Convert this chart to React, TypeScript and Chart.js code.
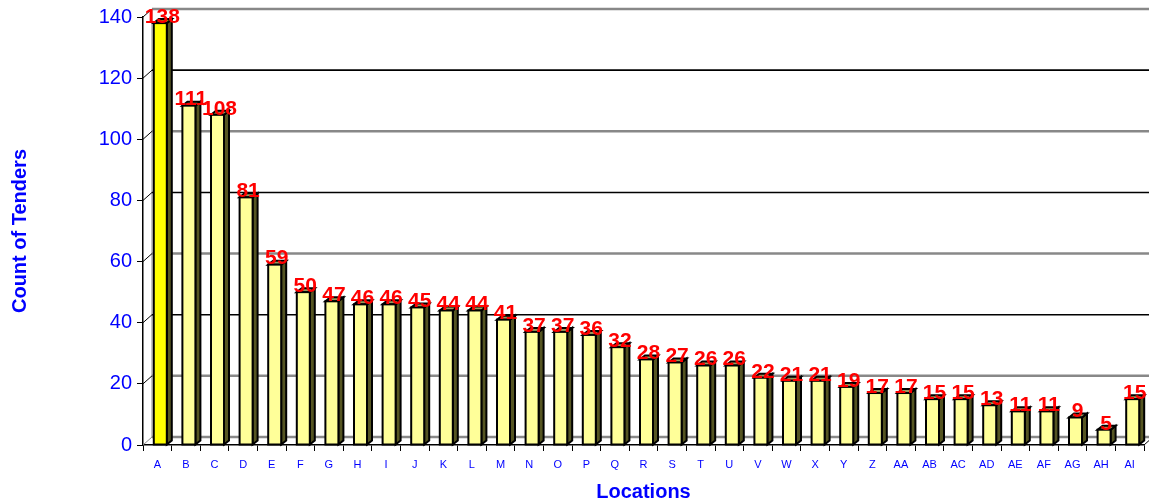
import React, { useEffect, useRef } from 'react';
import { Chart, registerables } from 'chart.js';

Chart.register(...registerables);

const categories = ['A','B','C','D','E','F','G','H','I','J','K','L','M','N','O','P','Q','R','S','T','U','V','W','X','Y','Z','AA','AB','AC','AD','AE','AF','AG','AH','AI'];
const counts = [138,111,108,81,59,50,47,46,46,45,44,44,41,37,37,36,32,28,27,26,26,22,21,21,19,17,17,15,15,13,11,11,9,5,15];
const yTickValues = [0,20,40,60,80,100,120,140];

const WALL_DX = 9;
const WALL_DY = 8;
const BAR_DX = 5;
const BAR_DY = 4;
const BAR_SHIFT = 3;
const BLUE = '#0000FF';
const FONT = '"Liberation Sans", Arial, sans-serif';

const threeD = {
  id: 'threeD',
  beforeDatasetsDraw(chart: any) {
    const { ctx, chartArea, scales } = chart;
    const { left, right, top, bottom } = chartArea;
    const y = scales.y;
    ctx.save();
    ctx.strokeStyle = '#888888';
    ctx.lineWidth = 1;
    ctx.beginPath();
    ctx.moveTo(left + WALL_DX, top - WALL_DY);
    ctx.lineTo(left + WALL_DX, bottom - WALL_DY);
    ctx.stroke();
    yTickValues.forEach((v) => {
      const py = y.getPixelForValue(v);
      const idx = Math.round(v / 20);
      const gray = v === 0 || idx % 2 === 1;
      ctx.strokeStyle = gray ? '#888888' : '#000000';
      ctx.lineWidth = gray ? 2.5 : 1.6;
      ctx.beginPath();
      ctx.moveTo(left + WALL_DX, py - WALL_DY);
      ctx.lineTo(chart.width, py - WALL_DY);
      ctx.stroke();
      ctx.strokeStyle = v === 0 ? '#888888' : '#000000';
      ctx.lineWidth = 1;
      ctx.beginPath();
      ctx.moveTo(left, py);
      ctx.lineTo(left + WALL_DX, py - WALL_DY);
      ctx.stroke();
    });
    ctx.strokeStyle = '#000000';
    ctx.lineWidth = 1;
    ctx.beginPath();
    ctx.moveTo(right, bottom);
    ctx.lineTo(right + WALL_DX, bottom - WALL_DY);
    ctx.stroke();
    ctx.restore();
  },
  afterDatasetsDraw(chart: any) {
    const { ctx } = chart;
    const meta = chart.getDatasetMeta(0);
    ctx.save();
    ctx.lineJoin = 'miter';
    const bars: { cx: number; ty: number; v: number }[] = [];
    meta.data.forEach((el: any, i: number) => {
      const p = el.getProps(['x', 'y', 'base', 'width'], true);
      const cx = p.x + BAR_SHIFT;
      const w = p.width;
      const l = cx - w / 2;
      const r = cx + w / 2;
      const ty = p.y;
      const by = p.base;
      const face = i === 0 ? '#FFFF00' : '#FFFF99';
      ctx.lineWidth = 2;
      ctx.strokeStyle = '#000000';
      ctx.fillStyle = '#555522';
      ctx.beginPath();
      ctx.moveTo(r, ty);
      ctx.lineTo(r + BAR_DX, ty - BAR_DY);
      ctx.lineTo(r + BAR_DX, by - BAR_DY);
      ctx.lineTo(r, by);
      ctx.closePath();
      ctx.fill();
      ctx.stroke();
      ctx.fillStyle = i === 0 ? '#999900' : '#99995c';
      ctx.beginPath();
      ctx.moveTo(l, ty);
      ctx.lineTo(l + BAR_DX, ty - BAR_DY);
      ctx.lineTo(r + BAR_DX, ty - BAR_DY);
      ctx.lineTo(r, ty);
      ctx.closePath();
      ctx.fill();
      ctx.stroke();
      ctx.fillStyle = face;
      ctx.fillRect(l, ty, w, by - ty);
      ctx.strokeRect(l, ty, w, by - ty);
      bars.push({ cx, ty, v: counts[i] });
    });
    ctx.fillStyle = '#FF0000';
    ctx.font = `bold 21px ${FONT}`;
    ctx.textAlign = 'center';
    ctx.textBaseline = 'middle';
    bars.forEach((b) => {
      ctx.fillText(String(b.v), b.cx + 2, b.ty - 6);
    });
    ctx.restore();
  },
};

export default function App() {
  const ref = useRef<HTMLCanvasElement | null>(null);
  useEffect(() => {
    document.body.style.margin = '0';
    if (!ref.current) return;
    const chart = new Chart(ref.current, {
      type: 'bar',
      data: {
        labels: categories,
        datasets: [
          {
            label: 'Count of Tenders',
            data: counts,
            backgroundColor: 'rgba(0,0,0,0)',
            borderWidth: 0,
            barThickness: 13,
          },
        ],
      },
      plugins: [threeD],
      options: {
        responsive: false,
        animation: false,
        events: [],
        layout: { padding: { top: 16, right: 5, left: 0, bottom: 0 } },
        plugins: {
          legend: { display: false },
          tooltip: { enabled: false },
        },
        scales: {
          x: {
            afterFit: (s: any) => {
              s.height = 59;
            },
            grid: { offset: true, drawOnChartArea: false, tickLength: 6, color: '#000000' },
            border: { color: '#000000', width: 1.5 },
            ticks: {
              color: BLUE,
              font: { size: 11, family: FONT },
              padding: 7,
              autoSkip: false,
              maxRotation: 0,
            },
            title: {
              display: true,
              text: 'Locations',
              color: BLUE,
              font: { size: 20, weight: 'bold', family: FONT },
              padding: { top: 0, bottom: 0 },
            },
          },
          y: {
            min: 0,
            max: 140,
            afterFit: (s: any) => {
              s.width = 143;
            },
            grid: { drawOnChartArea: false, tickLength: 6, color: '#000000' },
            border: { color: '#000000', width: 1.5 },
            ticks: {
              stepSize: 20,
              color: BLUE,
              font: { size: 20, family: FONT },
              padding: 5,
            },
            title: {
              display: true,
              text: 'Count of Tenders',
              color: BLUE,
              font: { size: 20, weight: 'bold', family: FONT },
              padding: { top: 8, bottom: 0 },
            },
          },
        },
      },
    });
    return () => chart.destroy();
  }, []);
  return (
    <div style={{ width: 1149, height: 504 }}>
      <canvas ref={ref} width={1149} height={504} style={{ display: 'block' }} />
    </div>
  );
}
